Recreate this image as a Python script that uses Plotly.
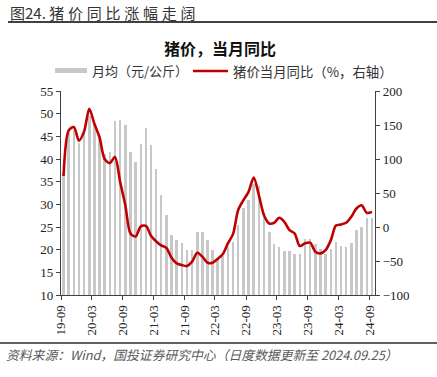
import pandas as pd
import plotly.graph_objects as go

# ---- data (monthly, 2019-09 .. 2024-09) ----
months = pd.date_range("2019-09-01", "2024-09-01", freq="MS").strftime("%Y-%m-%d").tolist()

price = [37.0, 46.0, 46.5, 43.5, 46.3, 49.5, 47.7, 44.7, 41.0, 41.5,
         48.3, 48.6, 47.5, 41.6, 39.4, 43.4, 46.8, 43.1, 37.7, 32.1,
         27.6, 23.3, 22.2, 21.5, 20.0, 19.9, 24.0, 24.0, 22.2, 20.0,
         18.2, 18.5, 20.6, 21.7, 25.5, 29.2, 31.0, 34.5, 34.0, 28.0,
         23.9, 21.2, 20.6, 19.7, 19.7, 19.0, 19.0, 22.4, 22.4, 21.3,
         20.1, 19.0, 20.1, 21.7, 20.8, 20.6, 21.5, 24.4, 25.0, 27.0,
         27.0]

yoy = [75, 142, 147, 127, 141, 174, 152, 132, 100, 94,
       103, 66, 32, -9.5, -14, 1, 1.5, -13, -21, -27,
       -30.5, -45, -53.5, -56, -57.4, -51, -38, -43.7, -52.5, -52.5,
       -47, -40, -24, -10.5, 25, 39.4, 51.7, 72.7, 46.8, 17.4,
       5.2, 6.2, 13.5, 7.6, -4.6, -9.5, -28, -24, -23, -36.4,
       -38.8, -34, -19.3, 2.2, 3.7, 6.2, 15, 27.2, 32, 20.8,
       22.3]

tick_dates = ["2019-09-01", "2020-03-01", "2020-09-01", "2021-03-01", "2021-09-01",
              "2022-03-01", "2022-09-01", "2023-03-01", "2023-09-01", "2024-03-01",
              "2024-09-01"]
tick_labels = ["19-09", "20-03", "20-09", "21-03", "21-09", "22-03", "22-09",
               "23-03", "23-09", "24-03", "24-09"]

left_ticks = [10, 15, 20, 25, 30, 35, 40, 45, 50, 55]
right_ticks = [-100, -50, 0, 50, 100, 150, 200]

# ---- layout geometry ----
W, H = 437, 377
L, R, T, B = 61, 62, 91, 82
PW, PH = W - L - R, H - T - B


def px(x):
    return (x - L) / PW


def py(y):
    return (H - B - y) / PH


CJK = "Noto Sans CJK SC"
SERIF = "Liberation Serif, Times New Roman, serif"
AX = "#404040"

fig = go.Figure()
fig.add_trace(go.Bar(
    x=months, y=price, xperiod="M1", xperiodalignment="middle",
    width=1.3e9, marker=dict(color="#C8C8C8", line=dict(width=0)),
    name="月均（元/公斤）", showlegend=False, yaxis="y"))
fig.add_trace(go.Scatter(
    x=months, y=yoy, xperiod="M1", xperiodalignment="middle",
    mode="lines", line=dict(color="#C00000", width=2.6, shape="spline", smoothing=0.8),
    name="猪价当月同比（%，右轴）", showlegend=False, yaxis="y2"))

fig.update_layout(
    width=W, height=H,
    margin=dict(l=L, r=R, t=T, b=B, pad=0, autoexpand=False),
    paper_bgcolor="white", plot_bgcolor="white",
    showlegend=False,
    bargap=0,
    xaxis=dict(type="date", range=["2019-09-01", "2024-10-04"], automargin=False,
               tickmode="array", tickvals=tick_dates, ticktext=tick_labels,
               tickangle=-90, ticks="outside", ticklen=4, tickcolor=AX,
               showline=True, linecolor=AX, linewidth=1, showgrid=False,
               zeroline=False, tickfont=dict(family=SERIF, size=13, color="#222")),
    yaxis=dict(range=[10, 55], tickvals=left_ticks, ticks="outside", ticklen=4,
               automargin=False,
               tickcolor=AX, showline=True, linecolor=AX, linewidth=1.3,
               showgrid=False, zeroline=False,
               tickfont=dict(family=SERIF, size=13, color="#222")),
    yaxis2=dict(range=[-100, 200], tickvals=right_ticks, overlaying="y", side="right",
                automargin=False,
                ticks="outside", ticklen=4, tickcolor=AX, showline=True,
                linecolor=AX, linewidth=1.3, showgrid=False, zeroline=False,
                tickfont=dict(family=SERIF, size=13, color="#222")),
)

heading = "图24. " + "\u2005".join("猪价同比涨幅走阔")

shapes = [
    dict(type="line", xref="paper", yref="paper", x0=px(8), x1=px(437), y0=py(22), y1=py(22),
         line=dict(color="#404040", width=2)),
    dict(type="line", xref="paper", yref="paper", x0=px(0), x1=px(437), y0=py(343), y1=py(343),
         line=dict(color="#606060", width=2)),
    dict(type="rect", xref="paper", yref="paper", x0=px(55), x1=px(87), y0=py(73), y1=py(68),
         fillcolor="#C8C8C8", line=dict(width=0)),
    dict(type="line", xref="paper", yref="paper", x0=px(193), x1=px(228), y0=py(71), y1=py(71),
         line=dict(color="#C00000", width=2.6)),
]

annotations = [
    dict(text=heading, xref="paper", yref="paper", x=px(8), y=py(12),
         xanchor="left", yanchor="middle", showarrow=False,
         font=dict(family=CJK, size=15, color="#333")),
    dict(text="<b>猪价，当月同比</b>", xref="paper", yref="paper", x=px(220), y=py(48),
         xanchor="center", yanchor="middle", showarrow=False,
         font=dict(family=CJK, size=16, color="#111")),
    dict(text="月均（元/公斤）", xref="paper", yref="paper", x=px(90), y=py(71),
         xanchor="left", yanchor="middle", showarrow=False,
         font=dict(family=CJK, size=13, color="#333")),
    dict(text="猪价当月同比（%，右轴）", xref="paper", yref="paper", x=px(231), y=py(71),
         xanchor="left", yanchor="middle", showarrow=False,
         font=dict(family=CJK, size=13.4, color="#333")),
    dict(text="<i>资料来源：Wind，国投证券研究中心（日度数据更新至 2024.09.25）</i>",
         xref="paper", yref="paper", x=px(4), y=py(354),
         xanchor="left", yanchor="middle", showarrow=False,
         font=dict(family=CJK, size=12.8, color="#595959")),
]

fig.update_layout(shapes=shapes, annotations=annotations)
fig.write_html("out.html", config={"displayModeBar": False},
               post_script="document.body.style.margin='0';document.body.style.overflow='hidden';")
